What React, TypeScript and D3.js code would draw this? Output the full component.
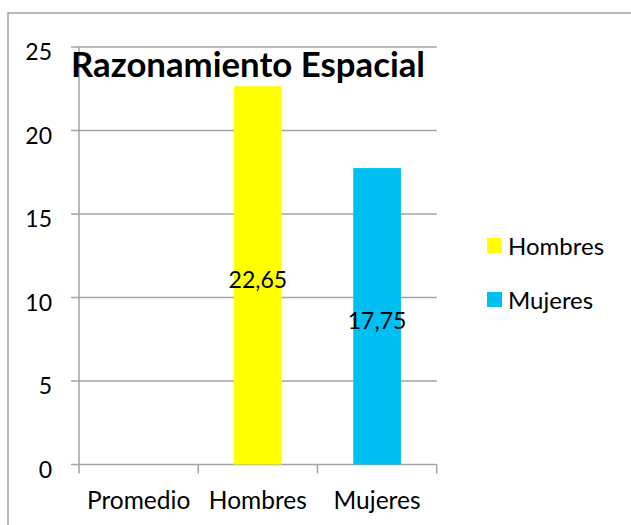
import React from "react";
import * as d3 from "d3";

const categories = ["Promedio", "Hombres", "Mujeres"];
const seriesNames = ["Hombres", "Mujeres"];
const seriesValues = [22.65, 17.75];
const seriesCategory = ["Hombres", "Mujeres"];
const seriesLabels = ["22,65", "17,75"];
const seriesColors = ["#FFFF00", "#00BFF3"];
const yTicks = [0, 5, 10, 15, 20, 25];
const title = "Razonamiento Espacial";

const W = 631;
const H = 525;
const FONT = "Lato, 'Open Sans', sans-serif";
const GRID = "#A3A3A3";

export default function App() {
  const x = d3.scaleBand<string>().domain(categories).range([79, 436.7]).paddingInner(0).paddingOuter(0);
  const y = d3.scaleLinear().domain([0, 25]).range([464.5, 47]);
  const bw = x.bandwidth();
  const barW = bw * 0.4;
  const boundaries = categories.map((c) => x(c) as number).concat([x.range()[1]]);

  return (
    <svg
      width={W}
      height={H}
      style={{ position: "absolute", left: 0, top: 0, background: "#fff" }}
      fontFamily={FONT}
    >
      <rect x={0} y={0} width={W} height={H} fill="#fff" />
      {/* outer border */}
      <rect x={8} y={13} width={W + 20} height={H + 20} fill="none" stroke={GRID} strokeWidth={1.5} />

      {/* gridlines + y ticks */}
      {yTicks.map((t) => (
        <g key={t}>
          <line x1={71} x2={436.7} y1={y(t)} y2={y(t)} stroke={GRID} strokeWidth={1.5} />
          <text x={52} y={y(t) + 4} textAnchor="end" dominantBaseline="central" fontSize={23} fill="#000">
            {t}
          </text>
        </g>
      ))}
      {/* y axis line */}
      <line x1={79} x2={79} y1={y(25)} y2={y(0)} stroke={GRID} strokeWidth={1.5} />

      {/* category ticks */}
      {boundaries.map((b, i) => (
        <line key={i} x1={b} x2={b} y1={y(0)} y2={y(0) + 9} stroke={GRID} strokeWidth={1.5} />
      ))}

      {/* bars */}
      {seriesValues.map((v, i) => {
        const cx = (x(seriesCategory[i]) as number) + bw / 2;
        return (
          <rect
            key={i}
            x={cx - barW / 2}
            y={y(v)}
            width={barW}
            height={y(0) - y(v)}
            fill={seriesColors[i]}
          />
        );
      })}

      {/* data labels */}
      {seriesValues.map((v, i) => {
        const cx = (x(seriesCategory[i]) as number) + bw / 2;
        const cy = (y(v) + y(0)) / 2 + 4;
        return (
          <text key={i} x={cx} y={cy} textAnchor="middle" dominantBaseline="central" fontSize={23} fill="#000">
            {seriesLabels[i]}
          </text>
        );
      })}

      {/* category labels */}
      {categories.map((c) => (
        <text
          key={c}
          x={(x(c) as number) + bw / 2}
          y={509}
          textAnchor="middle"
          fontSize={24.5}
          fill="#000"
        >
          {c}
        </text>
      ))}

      {/* title */}
      <text x={71} y={77} fontSize={34.5} fontWeight="bold" fill="#000" textLength={354} lengthAdjust="spacingAndGlyphs">
        {title}
      </text>

      {/* legend */}
      {seriesNames.map((n, i) => (
        <g key={n}>
          <rect x={487} y={238 + i * 54} width={15} height={15} fill={seriesColors[i]} />
          <text x={508} y={245.5 + i * 54} dominantBaseline="central" fontSize={24} fill="#000">
            {n}
          </text>
        </g>
      ))}
    </svg>
  );
}
